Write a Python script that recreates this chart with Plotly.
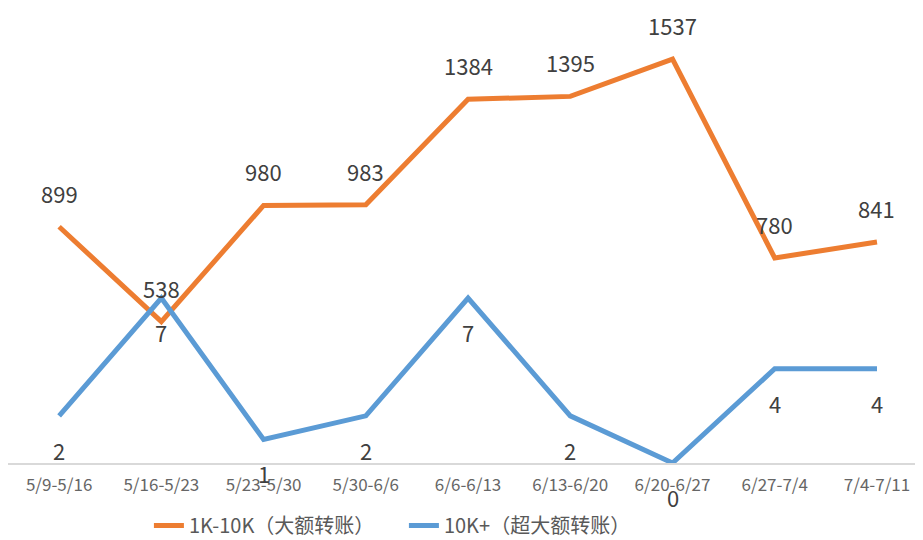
import plotly.graph_objects as go

categories = ["5/9-5/16", "5/16-5/23", "5/23-5/30", "5/30-6/6", "6/6-6/13",
              "6/13-6/20", "6/20-6/27", "6/27-7/4", "7/4-7/11"]
large = [899, 538, 980, 983, 1384, 1395, 1537, 780, 841]
xlarge = [2, 7, 1, 2, 7, 2, 0, 4, 4]

ORANGE = "#ED7D31"
BLUE = "#5B9BD5"
FONT = "Noto Sans CJK SC"

fig = go.Figure()
fig.add_trace(go.Scatter(x=categories, y=large, mode="lines", name="1K-10K（大额转账）",
                         line=dict(color=ORANGE, width=5), yaxis="y"))
fig.add_trace(go.Scatter(x=categories, y=xlarge, mode="lines", name="10K+（超大额转账）",
                         line=dict(color=BLUE, width=5), yaxis="y2"))

ann = []
for c, v in zip(categories, large):
    ann.append(dict(x=c, y=v, xref="x", yref="y", text=str(v), showarrow=False,
                    yshift=34, font=dict(size=22, color="#404040", family=FONT)))
for c, v in zip(categories, xlarge):
    ann.append(dict(x=c, y=v, xref="x", yref="y2", text=str(v), showarrow=False,
                    yshift=-34, font=dict(size=22, color="#404040", family=FONT)))

fig.update_layout(
    width=915, height=532,
    margin=dict(l=0, r=0, t=2, b=77, autoexpand=False),
    plot_bgcolor="white", paper_bgcolor="white",
    font=dict(family=FONT),
    xaxis=dict(type="category", range=[-0.5, 8.45], showgrid=False, zeroline=False,
               showline=True, linecolor="#d9d9d9", linewidth=1.5, ticks="",
               tickfont=dict(size=17, color="#666666", family=FONT), ticklabelstandoff=6),
    yaxis=dict(range=[0, 1723.7], visible=False, showgrid=False, zeroline=False),
    yaxis2=dict(range=[0, 19.22], overlaying="y", side="right", visible=False,
                showgrid=False, zeroline=False),
    legend=dict(orientation="h", x=0.154, xanchor="left", y=-0.138, yanchor="middle",
                font=dict(size=20, color="#595959", family=FONT),
                entrywidth=210, entrywidthmode="pixels",
                traceorder="normal"),
    annotations=ann,
)

fig.write_html("out.html")
